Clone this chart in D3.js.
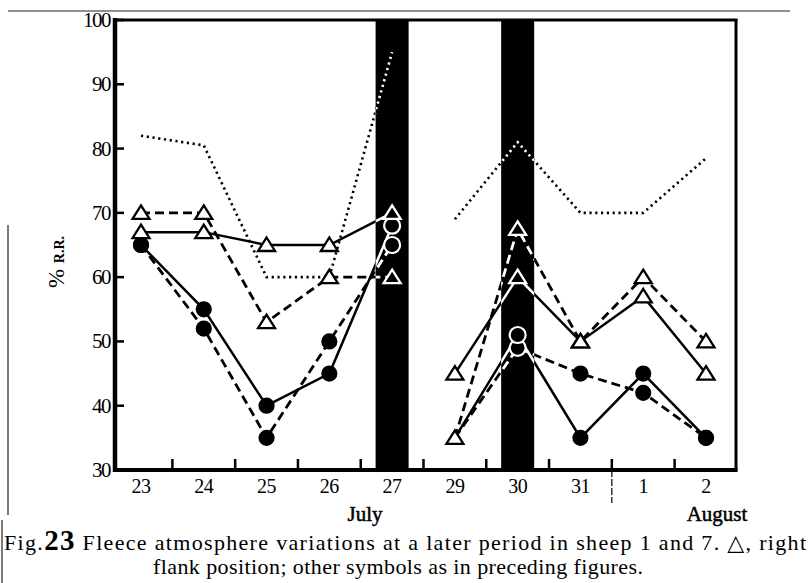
<!DOCTYPE html>
<html lang="en">
<head>
<meta charset="utf-8">
<script src="https://cdn.jsdelivr.net/npm/d3@7"></script>
<style>
  html, body { margin: 0; padding: 0; background: #fff; }
  svg { display: block; font-family: "Liberation Serif", "DejaVu Serif", serif; }
</style>
</head>
<body>
<svg id="chart" width="808" height="583"></svg>
<script>
// days on the x axis (no reading on the 28th)
var days = ["23", "24", "25", "26", "27", "29", "30", "31", "1", "2"];
var yTicks = [30, 40, 50, 60, 70, 80, 90, 100];
var darkDays = ["27", "30"];          // black bands
var segments = [[0, 4], [5, 9]];      // line breaks between 27 and 29

// % R.R. readings
var dottedLine  = [82, 80.5, 60, 60, 95, 69, 81, 70, 70, 78.5];
var triSolid    = [67, 67, 65, 65, 70, 45, 60, 50, 57, 45];
var triDashed   = [70, 70, 53, 60, 60, 35, 67.5, 50, 60, 50];
var dotSolid    = [65, 55, 40, 45, 68, 35, 51, 35, 45, 35];
var dotDashed   = [65, 52, 35, 50, 65, 35, 49, 45, 42, 35];
var hiddenDots  = ["29"];             // circles sit under the triangle there

var series = [
  {values: dottedLine, dash: "2.2,3.6", width: 2.6, marker: null},
  {values: dotDashed, dash: "9,5", width: 2.8, marker: "dot"},
  {values: dotSolid, dash: null, width: 2.5, marker: "dot"},
  {values: triDashed, dash: "9,5", width: 2.8, marker: "tri"},
  {values: triSolid, dash: null, width: 2.5, marker: "tri"}
];

var svg = d3.select("#chart");
var pLeft = 115, pRight = 736, pTop = 20, pBottom = 470;

var x = d3.scalePoint().domain(days).range([141, 706]);
var y = d3.scaleLinear().domain([30, 100]).range([pBottom, pTop]);

// black bands
svg.selectAll(".band").data(darkDays).enter().append("rect")
  .attr("x", function(d) { return x(d) - 16.5; })
  .attr("y", pTop)
  .attr("width", 33)
  .attr("height", pBottom - pTop)
  .attr("fill", "#000");

var clip = svg.append("clipPath").attr("id", "bandclip");
clip.selectAll("rect").data(darkDays).enter().append("rect")
  .attr("x", function(d) { return x(d) - 16.5; })
  .attr("y", pTop)
  .attr("width", 33)
  .attr("height", pBottom - pTop);

var line = d3.line()
  .x(function(d) { return x(days[d.i]); })
  .y(function(d) { return y(d.v); });

var triPath = "M0,-7.5L8.5,6L-8.5,6Z";

function drawSeries(g, ink, paper) {
  series.forEach(function(s) {
    segments.forEach(function(seg) {
      var pts = [];
      for (var i = seg[0]; i <= seg[1]; i++) pts.push({i: i, v: s.values[i]});
      g.append("path")
        .attr("d", line(pts))
        .attr("fill", "none")
        .attr("stroke", ink)
        .attr("stroke-width", s.width)
        .attr("stroke-dasharray", s.dash);
    });
  });
  series.forEach(function(s) {
    if (s.marker == "dot") {
      g.selectAll(null).data(s.values.map(function(v, i) { return {i: i, v: v}; })
          .filter(function(d) { return hiddenDots.indexOf(days[d.i]) < 0; }))
        .enter().append("circle")
        .attr("cx", function(d) { return x(days[d.i]); })
        .attr("cy", function(d) { return y(d.v); })
        .attr("r", paper == "#000" ? 8 : 7)
        .attr("fill", paper == "#000" ? "#000" : ink)
        .attr("stroke", ink)
        .attr("stroke-width", 2.2);
    }
  });
  series.forEach(function(s) {
    if (s.marker == "tri") {
      g.selectAll(null).data(s.values.map(function(v, i) { return {i: i, v: v}; }))
        .enter().append("path")
        .attr("d", triPath)
        .attr("transform", function(d) { return "translate(" + x(days[d.i]) + "," + y(d.v) + ")"; })
        .attr("fill", paper)
        .attr("stroke", ink)
        .attr("stroke-width", 2.3);
    }
  });
}

drawSeries(svg.append("g"), "#000", "#fff");
drawSeries(svg.append("g").attr("clip-path", "url(#bandclip)"), "#fff", "#000");

// frame
svg.append("line").attr("x1", pLeft).attr("x2", pRight + 1.5).attr("y1", pTop).attr("y2", pTop)
  .attr("stroke", "#000").attr("stroke-width", 3);
svg.append("line").attr("x1", pRight).attr("x2", pRight).attr("y1", pTop - 1).attr("y2", pBottom + 1)
  .attr("stroke", "#000").attr("stroke-width", 3);
svg.append("line").attr("x1", pLeft).attr("x2", pLeft).attr("y1", pTop - 2).attr("y2", pBottom + 2)
  .attr("stroke", "#000").attr("stroke-width", 4.5);
svg.append("line").attr("x1", pLeft - 2).attr("x2", pRight + 1.5).attr("y1", pBottom).attr("y2", pBottom)
  .attr("stroke", "#000").attr("stroke-width", 4);

// y ticks and labels
svg.selectAll(".yt").data(yTicks).enter().append("line")
  .attr("x1", pLeft).attr("x2", pLeft + 9)
  .attr("y1", function(d) { return y(d); }).attr("y2", function(d) { return y(d); })
  .attr("stroke", "#000").attr("stroke-width", 2.5);
svg.selectAll(".yl").data(yTicks).enter().append("text")
  .attr("x", 110)
  .attr("y", function(d) { return y(d) + 7; })
  .attr("text-anchor", "end")
  .attr("font-size", 21)
  .attr("letter-spacing", -1.5)
  .text(function(d) { return d; });

// x ticks between days
var mids = d3.pairs(days).map(function(p) { return (x(p[0]) + x(p[1])) / 2; });
svg.selectAll(".xt").data(mids).enter().append("line")
  .attr("x1", function(d) { return d; }).attr("x2", function(d) { return d; })
  .attr("y1", pBottom).attr("y2", pBottom - 11)
  .attr("stroke", "#000").attr("stroke-width", 2.5);
var monthSplit = (x("31") + x("1")) / 2;
svg.append("line").attr("x1", monthSplit).attr("x2", monthSplit)
  .attr("y1", pBottom).attr("y2", 503)
  .attr("stroke", "#000").attr("stroke-width", 1.2).attr("stroke-dasharray", "7,2");

svg.selectAll(".xl").data(days).enter().append("text")
  .attr("x", function(d) { return x(d); })
  .attr("y", 493)
  .attr("text-anchor", "middle")
  .attr("font-size", 20)
  .attr("letter-spacing", -0.5)
  .text(function(d) { return d; });

svg.append("text").attr("x", 365).attr("y", 521).attr("text-anchor", "middle")
  .attr("font-size", 21).attr("stroke", "#000").attr("stroke-width", 0.5).text("July");
svg.append("text").attr("x", 717).attr("y", 521).attr("text-anchor", "middle")
  .attr("font-size", 21).attr("stroke", "#000").attr("stroke-width", 0.5).text("August");

// y axis title
var yt = svg.append("text")
  .attr("transform", "translate(64,262) rotate(-90)")
  .attr("text-anchor", "middle");
yt.append("tspan").attr("font-size", 23).text("% ");
yt.append("tspan").attr("font-size", 14).attr("font-weight", "bold").text("R.R.");

// caption
var cap = svg.append("text").attr("x", 4).attr("y", 550)
  .attr("font-size", 22)
  .attr("textLength", 802).attr("lengthAdjust", "spacing");
cap.append("tspan").text("Fig.");
cap.append("tspan").attr("font-size", 29).attr("font-weight", "bold").text("23");
cap.append("tspan").text(" Fleece atmosphere variations at a later period in sheep 1 and 7.  \u25B3, right");

svg.append("text").attr("x", 153).attr("y", 574)
  .attr("font-size", 22)
  .attr("textLength", 490).attr("lengthAdjust", "spacing")
  .text("flank position; other symbols as in preceding figures.");

// page edge rules from the scan
svg.append("line").attr("x1", 8).attr("x2", 790).attr("y1", 11).attr("y2", 11)
  .attr("stroke", "#222").attr("stroke-width", 1);
svg.append("line").attr("x1", 8).attr("x2", 8).attr("y1", 225).attr("y2", 515)
  .attr("stroke", "#222").attr("stroke-width", 1.2);
svg.append("line").attr("x1", 2).attr("x2", 2).attr("y1", 520).attr("y2", 583)
  .attr("stroke", "#222").attr("stroke-width", 1.2);
</script>
</body>
</html>
